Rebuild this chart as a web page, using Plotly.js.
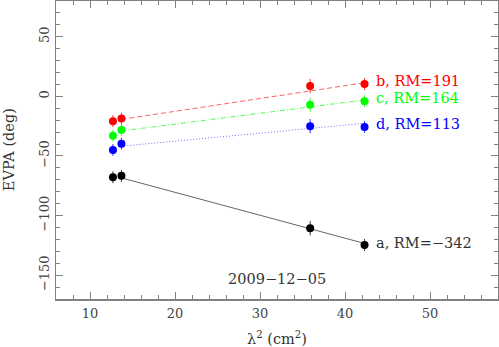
<!DOCTYPE html>
<html>
<head>
<meta charset="utf-8">
<script src="https://cdn.plot.ly/plotly-3.0.1.min.js"></script>
<style>
  html, body { margin: 0; padding: 0; background: #fff; }
  #plot { width: 499px; height: 347px; }
</style>
</head>
<body>
<div id="plot"></div>
<script>
// lambda^2 in cm^2 for the four bands
var lam2 = [12.7, 13.7, 35.9, 42.3];

// EVPA (deg) per component
var evpaA = [-67.8, -66.7, -110.6, -124.7];
var evpaB = [-20.8, -18.6, 8.6, 10.3];
var evpaC = [-33.0, -28.3, -7.0, -4.2];
var evpaD = [-45.0, -39.7, -25.0, -25.6];
var errEvpa = [5, 5, 6, 5];

// fitted RM lines (end points)
var fitX = [13.7, 42.3];
var fitA = [-68.4, -123.4];
var fitB = [-19.3, 11.4];
var fitC = [-29.0, -3.0];
var fitD = [-41.8, -22.6];

var labels = ["a, RM=\u2212342", "b, RM=191", "c, RM=164", "d, RM=113"];
var labelY = [-122.8, 13.3, -1.4, -22.8];
var labelX = 43.4;
var dateText = "2009\u221212\u221205";

var font = "DejaVu Serif, serif";

function pts(y, color) {
    return {
        x: lam2, y: y,
        type: 'scatter', mode: 'markers',
        marker: {color: color, size: 8},
        error_y: {type: 'data', array: errEvpa, visible: true, color: color, thickness: 0.8, width: 0},
        hoverinfo: 'skip'
    };
}

function fit(y, color, dash) {
    return {
        x: fitX, y: y,
        type: 'scatter', mode: 'lines',
        line: {color: color, width: 0.9, dash: dash},
        hoverinfo: 'skip'
    };
}

var data = [
    fit(fitA, '#555555', 'solid'),
    fit(fitB, '#ff5050', '5px,3px'),
    fit(fitC, '#40ff40', '5px,2px,1px,2px'),
    fit(fitD, '#6060ff', '1px,2px'),
    pts(evpaA, '#000000'),
    pts(evpaB, '#ff0000'),
    pts(evpaC, '#00ff00'),
    pts(evpaD, '#0000ff')
];

var labelColors = ['#333333', '#ff0000', '#00ff00', '#0000ff'];
var annotations = [];
for (var i = 0; i < labels.length; i++) {
    annotations.push({
        x: labelX, y: labelY[i], xref: 'x', yref: 'y',
        text: labels[i], showarrow: false, xanchor: 'left', yanchor: 'middle',
        font: {family: font, size: 14.5, color: labelColors[i]}
    });
}
annotations.push({
    x: 0.5, y: -153, xref: 'paper', yref: 'y',
    text: dateText, showarrow: false, xanchor: 'center', yanchor: 'middle',
    font: {family: font, size: 14.5, color: '#333333'}
});
// y axis title, placed by hand
annotations.push({
    x: -0.106, y: 0.5, xref: 'paper', yref: 'paper',
    text: 'EVPA (deg)', textangle: -90, showarrow: false,
    xanchor: 'center', yanchor: 'middle',
    font: {family: font, size: 14.5, color: '#333333'}
});

var axisCommon = {
    showgrid: false, zeroline: false,
    showline: true, linecolor: '#808080', linewidth: 1.5, mirror: 'allticks',
    ticks: 'inside', ticklen: 7, tickcolor: '#808080', tickwidth: 1,
    tickfont: {family: font, size: 13, color: '#444444'}
};

var layout = {
    width: 499, height: 347,
    margin: {l: 56, r: 1, t: 1, b: 48},
    paper_bgcolor: '#ffffff', plot_bgcolor: '#ffffff',
    showlegend: false,
    xaxis: Object.assign({}, axisCommon, {
        range: [6, 58], tick0: 0, dtick: 10, ticklabelstandoff: 2,
        minor: {dtick: 2, ticks: 'inside', ticklen: 4, tickcolor: '#808080'},
        title: {text: 'λ<sup>2</sup> (cm<sup>2</sup>)', font: {family: font, size: 14.5, color: '#333333'}, standoff: 20}
    }),
    yaxis: Object.assign({}, axisCommon, {
        range: [-170, 80], tick0: 0, dtick: 50, tickangle: -90,
        minor: {dtick: 10, ticks: 'inside', ticklen: 4, tickcolor: '#808080'}
    }),
    annotations: annotations
};

Plotly.newPlot('plot', data, layout, {staticPlot: true});
</script>
</body>
</html>
